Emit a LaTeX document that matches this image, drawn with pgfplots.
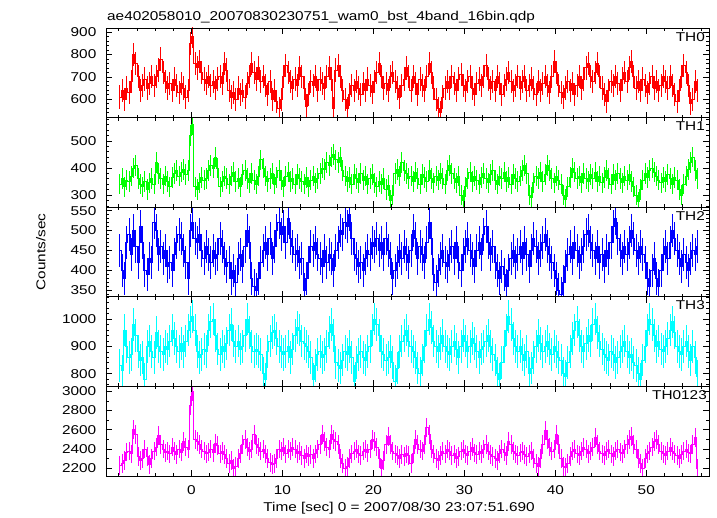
\documentclass[border=0pt]{standalone}
\usepackage{fontspec}
\setmainfont{Liberation Sans}[FakeStretch=1.2]
\usepackage{pgfplots}
\pgfplotsset{compat=1.18}
\usepackage{pgfplotstable}
\usepgfplotslibrary{groupplots}

\definecolor{qred}{RGB}{255,0,0}
\definecolor{qgreen}{RGB}{0,255,0}
\definecolor{qblue}{RGB}{0,0,255}
\definecolor{qcyan}{RGB}{0,255,255}
\definecolor{qmag}{RGB}{255,0,255}

% count rates, 0.25 s bins starting at t = -8 s
\pgfplotstableread[row sep=\\]{y\\
610\\ 640\\ 600\\ 650\\ 630\\ 680\\ 800\\ 760\\ 700\\ 640\\ 660\\ 690\\ 650\\ 670\\ 700\\ 660\\
700\\ 730\\ 780\\ 720\\ 680\\ 650\\ 670\\ 640\\ 690\\ 660\\ 630\\ 670\\ 650\\ 610\\ 640\\ 850\\
880\\ 760\\ 740\\ 770\\ 720\\ 690\\ 670\\ 700\\ 660\\ 680\\ 650\\ 690\\ 700\\ 670\\ 760\\ 730\\
640\\ 610\\ 630\\ 600\\ 650\\ 620\\ 640\\ 610\\ 670\\ 700\\ 760\\ 720\\ 690\\ 740\\ 680\\ 700\\
660\\ 620\\ 680\\ 600\\ 640\\ 590\\ 560\\ 600\\ 700\\ 750\\ 720\\ 680\\ 650\\ 690\\ 660\\ 740\\
700\\ 650\\ 570\\ 620\\ 680\\ 660\\ 700\\ 640\\ 690\\ 670\\ 650\\ 700\\ 740\\ 690\\ 560\\ 730\\
750\\ 700\\ 640\\ 600\\ 560\\ 620\\ 660\\ 640\\ 680\\ 650\\ 620\\ 670\\ 640\\ 690\\ 660\\ 630\\
680\\ 720\\ 760\\ 700\\ 650\\ 670\\ 640\\ 700\\ 720\\ 680\\ 650\\ 610\\ 660\\ 690\\ 740\\ 700\\
640\\ 700\\ 670\\ 620\\ 690\\ 660\\ 640\\ 700\\ 760\\ 720\\ 650\\ 600\\ 560\\ 540\\ 610\\ 650\\
680\\ 650\\ 700\\ 670\\ 640\\ 690\\ 710\\ 660\\ 640\\ 680\\ 700\\ 650\\ 620\\ 670\\ 690\\ 660\\
700\\ 750\\ 690\\ 650\\ 680\\ 640\\ 700\\ 670\\ 620\\ 660\\ 690\\ 720\\ 680\\ 640\\ 660\\ 700\\
650\\ 680\\ 700\\ 640\\ 660\\ 690\\ 650\\ 620\\ 680\\ 640\\ 670\\ 700\\ 660\\ 630\\ 700\\ 770\\
720\\ 660\\ 630\\ 610\\ 650\\ 680\\ 640\\ 670\\ 620\\ 660\\ 700\\ 650\\ 690\\ 740\\ 760\\ 700\\
680\\ 720\\ 760\\ 700\\ 650\\ 620\\ 590\\ 640\\ 680\\ 660\\ 700\\ 670\\ 640\\ 690\\ 720\\ 680\\
740\\ 770\\ 700\\ 650\\ 680\\ 640\\ 690\\ 660\\ 630\\ 670\\ 700\\ 650\\ 680\\ 640\\ 660\\ 700\\
680\\ 650\\ 700\\ 660\\ 620\\ 590\\ 640\\ 700\\ 750\\ 720\\ 660\\ 580\\ 600\\ 680\\ 640\\
}\thzero

\pgfplotstableread[row sep=\\]{y\\
340\\ 360\\ 330\\ 355\\ 350\\ 370\\ 400\\ 410\\ 360\\ 340\\ 330\\ 350\\ 320\\ 345\\ 360\\ 340\\
420\\ 380\\ 360\\ 340\\ 370\\ 350\\ 330\\ 365\\ 380\\ 390\\ 370\\ 385\\ 395\\ 375\\ 390\\ 520\\
560\\ 330\\ 320\\ 345\\ 365\\ 355\\ 360\\ 390\\ 410\\ 400\\ 440\\ 400\\ 330\\ 350\\ 370\\ 360\\
340\\ 370\\ 385\\ 350\\ 360\\ 330\\ 375\\ 390\\ 360\\ 345\\ 380\\ 355\\ 340\\ 370\\ 430\\ 400\\
370\\ 350\\ 360\\ 380\\ 340\\ 365\\ 390\\ 355\\ 330\\ 370\\ 385\\ 350\\ 360\\ 340\\ 375\\ 360\\
350\\ 340\\ 365\\ 330\\ 355\\ 370\\ 345\\ 360\\ 380\\ 400\\ 395\\ 420\\ 410\\ 440\\ 450\\ 430\\
420\\ 440\\ 390\\ 370\\ 350\\ 365\\ 340\\ 375\\ 360\\ 345\\ 380\\ 355\\ 370\\ 340\\ 360\\ 375\\
345\\ 330\\ 350\\ 340\\ 360\\ 320\\ 335\\ 280\\ 300\\ 380\\ 395\\ 370\\ 420\\ 390\\ 380\\ 360\\
370\\ 350\\ 385\\ 360\\ 340\\ 375\\ 365\\ 350\\ 390\\ 360\\ 345\\ 370\\ 355\\ 380\\ 360\\ 340\\
390\\ 410\\ 380\\ 360\\ 345\\ 370\\ 300\\ 280\\ 330\\ 360\\ 385\\ 350\\ 370\\ 355\\ 340\\ 365\\
380\\ 360\\ 345\\ 375\\ 390\\ 355\\ 340\\ 370\\ 360\\ 385\\ 350\\ 365\\ 340\\ 375\\ 360\\ 350\\
370\\ 390\\ 410\\ 380\\ 300\\ 290\\ 345\\ 370\\ 360\\ 385\\ 350\\ 375\\ 410\\ 390\\ 360\\ 345\\
370\\ 355\\ 340\\ 300\\ 285\\ 330\\ 365\\ 400\\ 385\\ 360\\ 370\\ 345\\ 380\\ 360\\ 350\\ 375\\
360\\ 385\\ 350\\ 370\\ 345\\ 365\\ 390\\ 360\\ 340\\ 375\\ 355\\ 380\\ 360\\ 345\\ 370\\ 355\\
375\\ 350\\ 330\\ 300\\ 275\\ 320\\ 355\\ 380\\ 365\\ 390\\ 400\\ 385\\ 370\\ 355\\ 345\\ 365\\
350\\ 375\\ 360\\ 340\\ 365\\ 355\\ 320\\ 300\\ 340\\ 370\\ 395\\ 420\\ 440\\ 390\\ 360\\
}\thone

\pgfplotstableread[row sep=\\]{y\\
450\\ 400\\ 380\\ 470\\ 490\\ 440\\ 500\\ 460\\ 420\\ 510\\ 470\\ 400\\ 390\\ 430\\ 420\\ 520\\
500\\ 440\\ 460\\ 430\\ 450\\ 410\\ 420\\ 400\\ 440\\ 470\\ 490\\ 480\\ 450\\ 420\\ 380\\ 500\\
520\\ 480\\ 470\\ 490\\ 450\\ 430\\ 460\\ 440\\ 420\\ 450\\ 430\\ 440\\ 480\\ 460\\ 430\\ 410\\
420\\ 380\\ 400\\ 370\\ 430\\ 440\\ 410\\ 460\\ 500\\ 470\\ 380\\ 360\\ 350\\ 380\\ 420\\ 450\\
470\\ 440\\ 480\\ 430\\ 460\\ 500\\ 520\\ 490\\ 510\\ 470\\ 530\\ 480\\ 460\\ 440\\ 450\\ 420\\
430\\ 350\\ 380\\ 420\\ 460\\ 450\\ 470\\ 440\\ 430\\ 410\\ 450\\ 420\\ 440\\ 430\\ 400\\ 450\\
470\\ 500\\ 490\\ 520\\ 510\\ 540\\ 480\\ 440\\ 430\\ 410\\ 420\\ 400\\ 430\\ 450\\ 440\\ 470\\
460\\ 480\\ 450\\ 470\\ 440\\ 480\\ 450\\ 430\\ 380\\ 400\\ 420\\ 450\\ 430\\ 460\\ 440\\ 420\\
450\\ 500\\ 480\\ 430\\ 460\\ 440\\ 420\\ 470\\ 520\\ 480\\ 390\\ 370\\ 400\\ 430\\ 450\\ 420\\
410\\ 440\\ 460\\ 430\\ 470\\ 420\\ 400\\ 440\\ 460\\ 480\\ 450\\ 430\\ 410\\ 450\\ 470\\ 440\\
490\\ 510\\ 470\\ 440\\ 460\\ 420\\ 400\\ 380\\ 410\\ 390\\ 360\\ 400\\ 430\\ 450\\ 420\\ 440\\
460\\ 430\\ 470\\ 440\\ 410\\ 450\\ 480\\ 460\\ 430\\ 450\\ 470\\ 490\\ 460\\ 440\\ 420\\ 400\\
380\\ 350\\ 340\\ 370\\ 410\\ 440\\ 460\\ 430\\ 470\\ 450\\ 420\\ 440\\ 460\\ 490\\ 500\\ 470\\
450\\ 430\\ 460\\ 420\\ 440\\ 410\\ 450\\ 430\\ 470\\ 510\\ 530\\ 480\\ 450\\ 430\\ 460\\ 440\\
470\\ 500\\ 480\\ 450\\ 430\\ 460\\ 440\\ 420\\ 380\\ 360\\ 400\\ 430\\ 380\\ 360\\ 400\\ 440\\
460\\ 430\\ 470\\ 500\\ 480\\ 450\\ 430\\ 410\\ 440\\ 420\\ 400\\ 430\\ 450\\ 440\\ 460\\
}\thtwo

\pgfplotstableread[row sep=\\]{y\\
830\\ 810\\ 960\\ 900\\ 860\\ 870\\ 980\\ 940\\ 880\\ 850\\ 860\\ 780\\ 900\\ 920\\ 880\\ 860\\
950\\ 900\\ 880\\ 870\\ 900\\ 890\\ 920\\ 960\\ 930\\ 900\\ 880\\ 910\\ 880\\ 920\\ 960\\ 990\\
1010\\ 960\\ 880\\ 860\\ 870\\ 890\\ 880\\ 960\\ 990\\ 1000\\ 940\\ 890\\ 870\\ 900\\ 880\\ 910\\
960\\ 980\\ 920\\ 900\\ 920\\ 890\\ 900\\ 940\\ 1000\\ 950\\ 900\\ 880\\ 890\\ 880\\ 870\\ 800\\
780\\ 880\\ 920\\ 950\\ 960\\ 930\\ 900\\ 880\\ 870\\ 880\\ 900\\ 860\\ 890\\ 940\\ 970\\ 960\\
920\\ 910\\ 900\\ 880\\ 860\\ 780\\ 830\\ 870\\ 880\\ 860\\ 870\\ 900\\ 950\\ 980\\ 940\\ 840\\
830\\ 820\\ 850\\ 880\\ 870\\ 900\\ 860\\ 770\\ 840\\ 870\\ 880\\ 860\\ 850\\ 880\\ 900\\ 960\\
1000\\ 980\\ 940\\ 880\\ 870\\ 850\\ 860\\ 880\\ 840\\ 770\\ 820\\ 880\\ 920\\ 940\\ 960\\ 920\\
900\\ 880\\ 860\\ 820\\ 800\\ 850\\ 900\\ 960\\ 1000\\ 970\\ 920\\ 900\\ 880\\ 910\\ 940\\ 900\\
880\\ 870\\ 900\\ 920\\ 890\\ 860\\ 900\\ 940\\ 920\\ 880\\ 900\\ 930\\ 910\\ 880\\ 860\\ 890\\
900\\ 920\\ 940\\ 900\\ 870\\ 850\\ 800\\ 780\\ 840\\ 900\\ 960\\ 1010\\ 980\\ 930\\ 900\\ 880\\
900\\ 870\\ 850\\ 880\\ 800\\ 820\\ 860\\ 900\\ 940\\ 910\\ 880\\ 900\\ 920\\ 890\\ 870\\ 900\\
880\\ 860\\ 850\\ 800\\ 790\\ 840\\ 880\\ 930\\ 960\\ 990\\ 940\\ 900\\ 880\\ 910\\ 940\\ 920\\
980\\ 1000\\ 950\\ 920\\ 890\\ 870\\ 860\\ 850\\ 880\\ 870\\ 840\\ 860\\ 880\\ 900\\ 920\\ 880\\
860\\ 870\\ 840\\ 830\\ 800\\ 780\\ 850\\ 900\\ 960\\ 1000\\ 980\\ 940\\ 900\\ 920\\ 890\\ 880\\
900\\ 930\\ 960\\ 990\\ 950\\ 900\\ 880\\ 870\\ 900\\ 920\\ 880\\ 850\\ 900\\ 860\\ 790\\
}\ththree

\pgfplotstableread[row sep=\\]{y\\
2230\\ 2250\\ 2280\\ 2370\\ 2380\\ 2350\\ 2600\\ 2550\\ 2320\\ 2280\\ 2300\\ 2400\\ 2320\\ 2240\\ 2300\\ 2380\\
2420\\ 2540\\ 2450\\ 2400\\ 2360\\ 2380\\ 2350\\ 2420\\ 2380\\ 2340\\ 2400\\ 2370\\ 2480\\ 2420\\ 2400\\ 2850\\
3000\\ 2500\\ 2480\\ 2450\\ 2400\\ 2380\\ 2350\\ 2370\\ 2400\\ 2360\\ 2460\\ 2440\\ 2350\\ 2380\\ 2340\\ 2300\\
2250\\ 2280\\ 2200\\ 2220\\ 2300\\ 2350\\ 2450\\ 2500\\ 2420\\ 2380\\ 2400\\ 2550\\ 2450\\ 2420\\ 2380\\ 2400\\
2350\\ 2300\\ 2260\\ 2240\\ 2250\\ 2300\\ 2400\\ 2380\\ 2420\\ 2350\\ 2400\\ 2380\\ 2420\\ 2400\\ 2350\\ 2380\\
2330\\ 2300\\ 2350\\ 2320\\ 2340\\ 2300\\ 2350\\ 2400\\ 2450\\ 2550\\ 2480\\ 2420\\ 2400\\ 2550\\ 2500\\ 2480\\
2450\\ 2300\\ 2250\\ 2200\\ 2220\\ 2300\\ 2350\\ 2380\\ 2400\\ 2350\\ 2330\\ 2380\\ 2400\\ 2360\\ 2400\\ 2500\\
2480\\ 2420\\ 2300\\ 2200\\ 2280\\ 2450\\ 2530\\ 2450\\ 2380\\ 2350\\ 2330\\ 2300\\ 2340\\ 2320\\ 2350\\ 2330\\
2250\\ 2350\\ 2500\\ 2450\\ 2400\\ 2380\\ 2450\\ 2620\\ 2550\\ 2400\\ 2350\\ 2300\\ 2280\\ 2330\\ 2380\\ 2350\\
2400\\ 2380\\ 2330\\ 2350\\ 2300\\ 2320\\ 2380\\ 2400\\ 2350\\ 2330\\ 2380\\ 2420\\ 2360\\ 2340\\ 2380\\ 2350\\
2400\\ 2450\\ 2380\\ 2340\\ 2320\\ 2300\\ 2280\\ 2350\\ 2400\\ 2370\\ 2330\\ 2480\\ 2450\\ 2380\\ 2350\\ 2330\\
2360\\ 2380\\ 2340\\ 2320\\ 2350\\ 2380\\ 2300\\ 2250\\ 2220\\ 2300\\ 2450\\ 2590\\ 2500\\ 2420\\ 2380\\ 2400\\
2550\\ 2450\\ 2300\\ 2220\\ 2210\\ 2250\\ 2320\\ 2380\\ 2400\\ 2350\\ 2330\\ 2380\\ 2420\\ 2400\\ 2350\\ 2380\\
2420\\ 2520\\ 2450\\ 2380\\ 2350\\ 2330\\ 2380\\ 2400\\ 2350\\ 2320\\ 2380\\ 2400\\ 2370\\ 2350\\ 2400\\ 2450\\
2500\\ 2530\\ 2450\\ 2400\\ 2300\\ 2250\\ 2200\\ 2300\\ 2350\\ 2380\\ 2420\\ 2480\\ 2500\\ 2450\\ 2380\\ 2350\\
2330\\ 2380\\ 2420\\ 2380\\ 2350\\ 2330\\ 2300\\ 2340\\ 2380\\ 2400\\ 2360\\ 2350\\ 2450\\ 2520\\ 2200\\
}\thall

% step line through the 0.25 s bins; error bars as vertical combs:
% a coloured comb up to y+err, then a white comb up to y-err leaves the +-err bar
\pgfplotsset{
  qstep/.style={draw=#1, const plot mark mid, mark=none, line width=0.8bp},
  qcomb/.style={draw=#1, ycomb, mark=none, line width=0.8bp, forget plot},
}
\tikzset{lbl/.style={anchor=north east, inner sep=0pt, xshift=-4bp, yshift=-4bp}}

\begin{document}
\begin{tikzpicture}[font=\fontsize{12.8bp}{15bp}\selectfont]
\begin{groupplot}[
  group style={group size=1 by 5, vertical sep=0pt, xticklabels at=edge bottom},
  width=603bp, height=89.6bp, scale only axis,
  xmin=-9.4, xmax=56.9,
  xtick={0,10,...,50}, minor xtick={-8,-6,...,56},
  tick align=inside, major tick length=6bp, minor tick length=3bp,
  tick pos=both,
  every tick/.style={black, line width=0.6bp},
  axis line style={line width=0.8bp},
  axis on top,
  /pgf/number format/assume math mode=true,
  /pgf/number format/1000 sep={},
  yticklabel style={inner sep=0pt, xshift=-9.5bp},
  xticklabel style={yshift=-6bp},
  clip mode=individual,
]
\nextgroupplot[ymin=518, ymax=918, ytick={600,700,800,900}, minor ytick={520,540,...,900}]
\coordinate (TL) at (rel axis cs:0,1);
\addplot[qcomb=qred] table[x index=0, y index=0, x expr=\coordindex*0.25-7.875, y expr=\thisrow{y}+52]{\thzero};
\addplot[qcomb=white] table[x index=0, y index=0, x expr=\coordindex*0.25-7.875, y expr=\thisrow{y}-52]{\thzero};
\addplot[qstep=qred] table[x expr=\coordindex*0.25-7.875, y=y]{\thzero};
\node[lbl] at (rel axis cs:1,1) {TH0};
\node[anchor=base west, inner sep=0pt, yshift=7.7bp, xshift=1bp] at (rel axis cs:0,1) {ae402058010\_20070830230751\_wam0\_bst\_4band\_16bin.qdp};

\nextgroupplot[ymin=255, ymax=586, ytick={300,400,500}, minor ytick={260,280,...,580}]
\addplot[qcomb=qgreen] table[x index=0, y index=0, x expr=\coordindex*0.25-7.875, y expr=\thisrow{y}+38]{\thone};
\addplot[qcomb=white] table[x index=0, y index=0, x expr=\coordindex*0.25-7.875, y expr=\thisrow{y}-38]{\thone};
\addplot[qstep=qgreen] table[x expr=\coordindex*0.25-7.875, y=y]{\thone};
\node[lbl] at (rel axis cs:1,1) {TH1};

\nextgroupplot[ymin=333, ymax=559, ytick={350,400,...,550}, minor ytick={340,350,...,550},
  ylabel={Counts/sec}, ylabel style={at={(axis description cs:-0.108,0.5)}, anchor=center}]
\addplot[qcomb=qblue] table[x index=0, y index=0, x expr=\coordindex*0.25-7.875, y expr=\thisrow{y}+42]{\thtwo};
\addplot[qcomb=white] table[x index=0, y index=0, x expr=\coordindex*0.25-7.875, y expr=\thisrow{y}-42]{\thtwo};
\addplot[qstep=qblue] table[x expr=\coordindex*0.25-7.875, y=y]{\thtwo};
\node[lbl] at (rel axis cs:1,1) {TH2};

\nextgroupplot[ymin=753, ymax=1082, ytick={800,900,1000}, minor ytick={760,780,...,1080}]
\addplot[qcomb=qcyan] table[x index=0, y index=0, x expr=\coordindex*0.25-7.875, y expr=\thisrow{y}+60]{\ththree};
\addplot[qcomb=white] table[x index=0, y index=0, x expr=\coordindex*0.25-7.875, y expr=\thisrow{y}-60]{\ththree};
\addplot[qstep=qcyan] table[x expr=\coordindex*0.25-7.875, y=y]{\ththree};
\node[lbl] at (rel axis cs:1,1) {TH3};

\nextgroupplot[ymin=2120, ymax=3050, ytick={2200,2400,...,3000}, minor ytick={2200,2300,...,3000},
  xlabel={Time [sec] 0 = 2007/08/30 23:07:51.690},
  xlabel style={at={(axis description cs:0.486,0)}, anchor=center, yshift=-32bp}]
\addplot[qcomb=qmag] table[x index=0, y index=0, x expr=\coordindex*0.25-7.875, y expr=\thisrow{y}+97]{\thall};
\addplot[qcomb=white] table[x index=0, y index=0, x expr=\coordindex*0.25-7.875, y expr=\thisrow{y}-97]{\thall};
\addplot[qstep=qmag] table[x expr=\coordindex*0.25-7.875, y=y]{\thall};
\node[lbl, xshift=2bp] at (rel axis cs:1,1) {TH0123};
\end{groupplot}
\path (TL) ++(-106bp,28bp) rectangle ++(717bp,-516bp);
\end{tikzpicture}
\end{document}
